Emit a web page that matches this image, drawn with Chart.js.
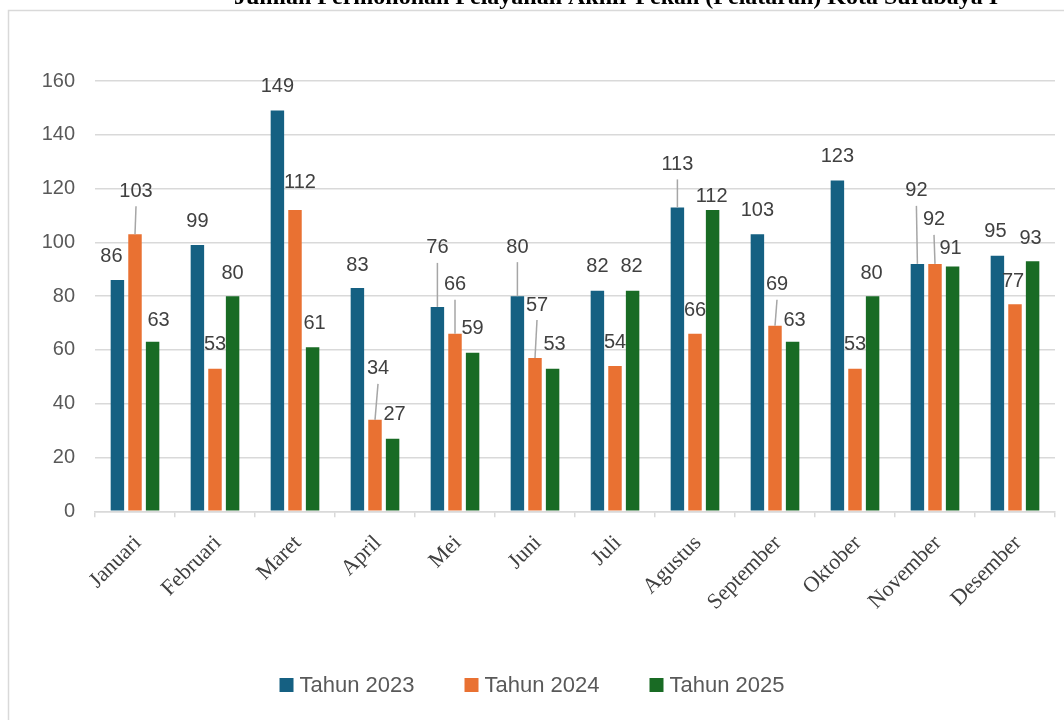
<!DOCTYPE html>
<html>
<head>
<meta charset="utf-8">
<script src="https://cdn.jsdelivr.net/npm/chart.js@4.4.1/dist/chart.umd.min.js"></script>
<style>
  html, body { margin: 0; padding: 0; background: #ffffff; overflow: hidden; }
  #wrap { position: relative; width: 1064px; height: 720px; }
  canvas { display: block; }
</style>
</head>
<body>
<div id="wrap"><canvas id="c" width="1064" height="720"></canvas></div>
<script>
// ---- data ----
const titleText = 'Jumlah Permohonan Pelayanan Akhir Pekan (Pelataran) Kota Surabaya I';
const months = ['Januari','Februari','Maret','April','Mei','Juni','Juli','Agustus','September','Oktober','November','Desember'];
const seriesNames = ['Tahun 2023','Tahun 2024','Tahun 2025'];
const tahun2023 = [86, 99, 149, 83, 76, 80, 82, 113, 103, 123, 92, 95];
const tahun2024 = [103, 53, 112, 34, 66, 57, 54, 66, 69, 53, 92, 77];
const tahun2025 = [63, 80, 61, 27, 59, 53, 82, 112, 63, 80, 91, 93];
const seriesColors = ['#156082', '#E97132', '#196B24'];
const yTicks = [0, 20, 40, 60, 80, 100, 120, 140, 160];

// data-label placement nudges [dx, dy] (pixels, relative to default spot above bar)
const nudge2023 = [[-6,0],[0,0],[0,0],[0,1],[0,-35],[0,-25],[0,0],[0,-19],[0,0],[0,0],[-1,-49],[-2,0]];
const nudge2024 = [[1,-19],[0,0],[5,-4],[3,-27],[0,-25],[2,-29],[0,0],[0,1],[2,-17],[0,0],[-1,-20],[-2,1]];
const nudge2025 = [[6,3],[0,1],[2,0],[2,0],[0,0],[2,0],[-1,0],[-1,10],[2,3],[-1,1],[-2,6],[-2,1]];
const nudges = [nudge2023, nudge2024, nudge2025];

const SANS = '"Liberation Sans", Arial, sans-serif';
const SERIF = '"Liberation Serif", "Times New Roman", serif';

const framePlugin = {
  id: 'frame',
  beforeDraw(chart) {
    const ctx = chart.ctx;
    ctx.save();
    ctx.strokeStyle = '#d9d9d9';
    ctx.lineWidth = 1.5;
    ctx.beginPath();
    ctx.moveTo(8.5, 720);
    ctx.lineTo(8.5, 10.5);
    ctx.lineTo(1064, 10.5);
    ctx.stroke();
    ctx.fillStyle = '#000000';
    ctx.font = 'bold 24px ' + SERIF;
    ctx.textAlign = 'center';
    ctx.textBaseline = 'alphabetic';
    ctx.fillText(titleText, 616, 3.5);
    ctx.restore();
  }
};

const labelPlugin = {
  id: 'valueLabels',
  afterDatasetsDraw(chart) {
    const ctx = chart.ctx;
    ctx.save();
    ctx.font = '20px ' + SANS;
    ctx.textAlign = 'center';
    ctx.textBaseline = 'middle';
    chart.data.datasets.forEach((ds, di) => {
      const meta = chart.getDatasetMeta(di);
      meta.data.forEach((bar, i) => {
        const nd = nudges[di][i] || [0, 0];
        const lx = bar.x + nd[0];
        const ly = bar.y - 24 + nd[1];
        if (nd[1] < -10) {
          ctx.strokeStyle = '#a6a6a6';
          ctx.lineWidth = 1.5;
          ctx.beginPath();
          ctx.moveTo(lx, ly + 15);
          ctx.lineTo(bar.x, bar.y);
          ctx.stroke();
        }
        ctx.fillStyle = '#404040';
        ctx.fillText(String(ds.data[i]), lx, ly);
      });
    });
    ctx.restore();
  }
};

const legendPlugin = {
  id: 'customLegend',
  afterDraw(chart) {
    const ctx = chart.ctx;
    ctx.save();
    ctx.font = '22px ' + SANS;
    ctx.textBaseline = 'middle';
    ctx.textAlign = 'left';
    const box = 14, gapText = 6, gapItem = 50, cy = 685;
    const widths = seriesNames.map(n => ctx.measureText(n).width);
    const total = widths.reduce((a, w) => a + box + gapText + w, 0) + gapItem * (seriesNames.length - 1);
    let x = 532 - total / 2;
    seriesNames.forEach((n, i) => {
      ctx.fillStyle = seriesColors[i];
      ctx.fillRect(x, cy - box / 2, box, box);
      ctx.fillStyle = '#595959';
      ctx.fillText(n, x + box + gapText, cy + 1);
      x += box + gapText + widths[i] + gapItem;
    });
    ctx.restore();
  }
};

const seriesData = [tahun2023, tahun2024, tahun2025];

new Chart(document.getElementById('c'), {
  type: 'bar',
  data: {
    labels: months,
    datasets: seriesNames.map((n, i) => ({
      label: n,
      data: seriesData[i],
      backgroundColor: seriesColors[i],
      borderWidth: 0,
      categoryPercentage: 0.66,
      barPercentage: 0.765
    }))
  },
  options: {
    responsive: false,
    animation: false,
    devicePixelRatio: 1,
    layout: { padding: { top: 81, right: 9, bottom: 0, left: 0 } },
    plugins: {
      legend: { display: false },
      tooltip: { enabled: false },
      title: { display: false }
    },
    scales: {
      x: {
        offset: true,
        grid: {
          display: true,
          offset: true,
          drawOnChartArea: false,
          drawTicks: true,
          tickLength: 6,
          color: '#d9d9d9',
          lineWidth: 1.5
        },
        border: { display: true, color: '#d9d9d9', width: 1.5 },
        ticks: {
          color: '#404040',
          font: { family: SERIF, size: 22 },
          minRotation: 45,
          maxRotation: 45,
          padding: 13,
          labelOffset: 3,
          autoSkip: false
        },
        afterFit(scale) { scale.height = 208.7; }
      },
      y: {
        min: 0,
        max: 160,
        afterBuildTicks(scale) { scale.ticks = yTicks.map(v => ({ value: v })); },
        grid: { color: '#d9d9d9', lineWidth: 1.5, drawTicks: false },
        border: { display: false },
        ticks: {
          color: '#595959',
          font: { family: SANS, size: 20 },
          padding: 20
        },
        afterFit(scale) { scale.width = 95; }
      }
    }
  },
  plugins: [framePlugin, labelPlugin, legendPlugin]
});
</script>
</body>
</html>
